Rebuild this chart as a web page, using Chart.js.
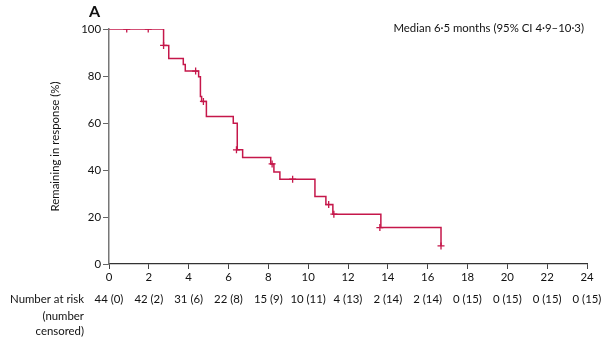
<!DOCTYPE html>
<html>
<head>
<meta charset="utf-8">
<script src="https://cdn.jsdelivr.net/npm/chart.js@4/dist/chart.umd.min.js"></script>
<style>
  html, body { margin: 0; padding: 0; background: #fff; }
  #wrap { width: 607px; height: 355px; position: relative; }
</style>
</head>
<body>
<div id="wrap"><canvas id="c" width="607" height="355"></canvas></div>
<script>
// Kaplan-Meier step curve: event times (months) and survival after each step (%)
const stepTimes  = [0, 2.74, 3.0, 3.73, 3.83, 4.5, 4.59, 4.65, 4.89, 6.24, 6.44, 6.71, 8.12, 8.28, 8.58, 10.34, 10.89, 11.24, 13.65, 16.67];
const stepValues = [100, 93.0, 87.5, 84.9, 82.1, 79.7, 71.3, 69.2, 62.8, 59.9, 48.6, 45.3, 42.6, 39.2, 36.1, 28.7, 25.3, 21.2, 15.5, 7.7];
// Censored observations
const censorTimes  = [0.89, 1.97, 2.74, 4.35, 4.74, 6.4, 8.19, 9.22, 11.03, 11.29, 13.6, 16.67];
const censorValues = [100, 100, 93.0, 82.1, 69.2, 48.6, 42.6, 36.1, 25.3, 21.2, 15.5, 7.7];
// Axis ticks and number-at-risk table
const xTicks = [0, 2, 4, 6, 8, 10, 12, 14, 16, 18, 20, 22, 24];
const yTicks = [0, 20, 40, 60, 80, 100];
const atRisk = ["44 (0)", "42 (2)", "31 (6)", "22 (8)", "15 (9)", "10 (11)", "4 (13)", "2 (14)", "2 (14)", "0 (15)", "0 (15)", "0 (15)", "0 (15)"];
const yTitle = "Remaining in response (%)";
const panelLabel = "A";
const medianText = "Median 6·5 months (95% CI 4·9–10·3)";
const atRiskLabel = ["Number at risk", "(number", "censored)"];

const FONT = "Lato, 'Liberation Sans', sans-serif";
const FS = 11.4;
const RED = "#c5174a";

const extras = {
  id: 'extras',
  afterDraw(chart) {
    const ctx = chart.ctx;
    const xs = chart.scales.x;
    ctx.save();
    ctx.fillStyle = '#111';
    ctx.textBaseline = 'middle';
    // panel label
    ctx.font = "bold 16px " + FONT;
    ctx.textAlign = 'left';
    ctx.fillText(panelLabel, 89, 12);
    // median text
    ctx.font = FS + "px " + FONT;
    ctx.textAlign = 'right';
    ctx.fillText(medianText, 584, 28.5);
    // number at risk
    ctx.textAlign = 'right';
    ctx.fillText(atRiskLabel[0], 84, 299.5);
    ctx.fillText(atRiskLabel[1], 84, 316.5);
    ctx.fillText(atRiskLabel[2], 84, 331.5);
    ctx.textAlign = 'center';
    xTicks.forEach((t, i) => {
      ctx.fillText(atRisk[i], xs.getPixelForValue(t), 299.5);
    });
    ctx.restore();
  }
};

new Chart(document.getElementById('c'), {
  type: 'line',
  data: {
    datasets: [
      {
        label: 'KM',
        data: stepTimes.map((t, i) => ({x: t, y: stepValues[i]})),
        stepped: 'before',
        borderColor: RED,
        borderWidth: 1.5,
        pointRadius: 0,
        fill: false
      },
      {
        label: 'Censored',
        data: censorTimes.map((t, i) => ({x: t, y: censorValues[i]})),
        showLine: false,
        pointStyle: 'cross',
        pointRadius: 3.5,
        pointBorderWidth: 1.3,
        borderColor: RED,
        backgroundColor: RED
      }
    ]
  },
  options: {
    responsive: false,
    animation: false,
    devicePixelRatio: 1,
    layout: { padding: { top: 29, right: 20, left: 0, bottom: 0 } },
    plugins: { legend: { display: false }, tooltip: { enabled: false } },
    scales: {
      x: {
        type: 'linear',
        min: 0, max: 24,
        afterBuildTicks: (s) => { s.ticks = xTicks.map(v => ({value: v})); },
        afterFit: (s) => { s.height = 91; },
        ticks: { color: '#111', font: { family: FONT, size: FS }, padding: 1, maxRotation: 0 },
        grid: { drawOnChartArea: false, drawTicks: true, tickLength: 5, color: '#444', lineWidth: 1 },
        border: { display: true, color: '#333', width: 1.2 }
      },
      y: {
        min: 0, max: 100,
        afterBuildTicks: (s) => { s.ticks = yTicks.map(v => ({value: v})); },
        afterFit: (s) => { s.width = 109; },
        ticks: { color: '#111', font: { family: FONT, size: FS }, padding: 2 },
        grid: { drawOnChartArea: false, drawTicks: true, tickLength: 6, color: '#666', lineWidth: 1 },
        border: { display: true, color: '#777', width: 1.5 },
        title: { display: true, text: yTitle, color: '#111', font: { family: FONT, size: FS }, padding: { top: 48, bottom: 0 } }
      }
    }
  },
  plugins: [extras]
});
</script>
</body>
</html>
